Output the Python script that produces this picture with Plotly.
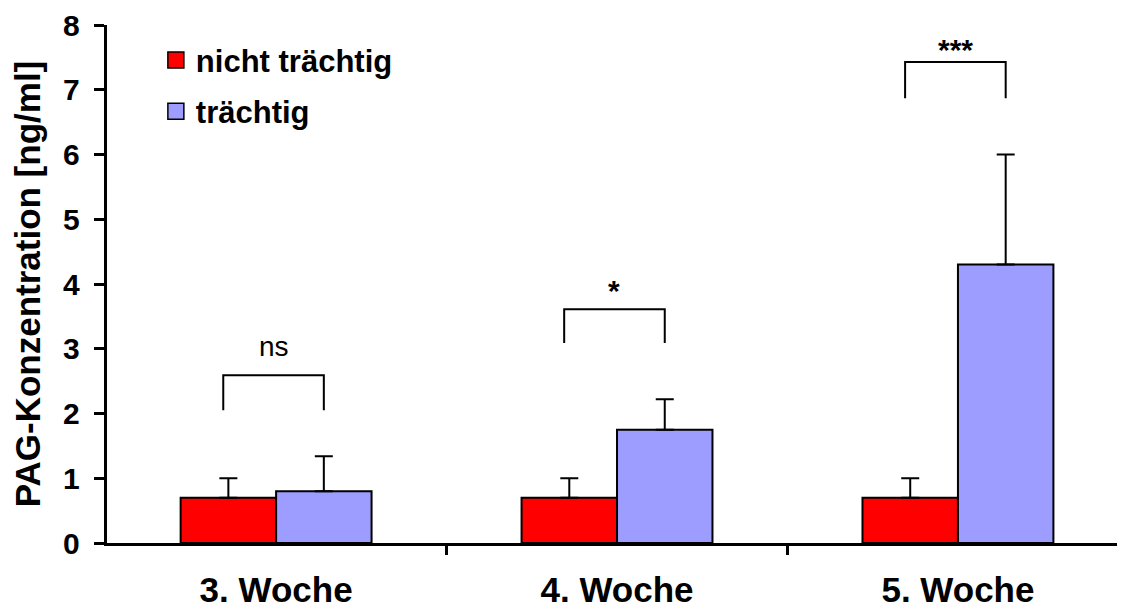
import plotly.graph_objects as go

categories = ["3. Woche", "4. Woche", "5. Woche"]
nicht_traechtig = [0.70, 0.70, 0.70]
nicht_traechtig_err = [0.30, 0.30, 0.30]
traechtig = [0.80, 1.75, 4.30]
traechtig_err = [0.54, 0.47, 1.70]
sig_labels = ["ns", "*", "***"]
bracket_top = [2.59, 3.61, 7.43]
bracket_bottom = [2.05, 3.09, 6.87]
label_y = [3.03, 3.9, 7.62]

RED = "#FF0000"
BLUE = "#9D9DFF"
FONT = "Liberation Sans, Arial, sans-serif"

fig = go.Figure()
fig.add_trace(go.Bar(
    x=categories, y=nicht_traechtig, name="nicht trächtig",
    marker=dict(color=RED, line=dict(color="black", width=2)),
    error_y=dict(type="data", array=nicht_traechtig_err, symmetric=False,
                 arrayminus=[0, 0, 0], color="black", thickness=2, width=9),
    showlegend=False,
))
fig.add_trace(go.Bar(
    x=categories, y=traechtig, name="trächtig",
    marker=dict(color=BLUE, line=dict(color="black", width=2)),
    error_y=dict(type="data", array=traechtig_err, symmetric=False,
                 arrayminus=[0, 0, 0], color="black", thickness=2, width=9),
    showlegend=False,
))
# legend entries
for nm, col, grp in [("nicht trächtig", RED, "a"), ("trächtig", BLUE, "b")]:
    fig.add_trace(go.Scatter(
        x=[None], y=[None], mode="markers", name=nm, legendgroup=grp,
        marker=dict(symbol="square", size=16, color=col,
                    line=dict(color="black", width=1.5)),
    ))

# significance brackets
off_l, off_r = -0.155, 0.14
for i, lab in enumerate(sig_labels):
    fig.add_shape(type="path", xref="x", yref="y",
                  path=f"M {i+off_l},{bracket_bottom[i]} L {i+off_l},{bracket_top[i]} "
                       f"L {i+off_r},{bracket_top[i]} L {i+off_r},{bracket_bottom[i]}",
                  line=dict(color="black", width=2))
    bold = lab != "ns"
    fig.add_annotation(x=i + (off_l + off_r) / 2, y=label_y[i], xref="x", yref="y",
                       text=lab, showarrow=False,
                       font=dict(family=FONT, size=28 if not bold else 30,
                                 color="black", weight="bold" if bold else "normal"))

fig.update_layout(
    width=1117, height=600,
    margin=dict(l=99, r=0, t=17, b=65),
    paper_bgcolor="white", plot_bgcolor="white",
    barmode="group", bargap=0.44, bargroupgap=0,
    font=dict(family=FONT, color="black"),
    legend=dict(x=0.048, y=0.984, xanchor="left", yanchor="top",
                font=dict(family=FONT, size=31, weight="bold"),
                tracegroupgap=8, bgcolor="rgba(0,0,0,0)"),
)
fig.update_xaxes(
    range=[-0.496, 2.49], showline=True, linecolor="black", linewidth=3,
    ticks="outside", tickson="boundaries", ticklen=9, tickwidth=3, tickcolor="black",
    tickfont=dict(family=FONT, size=35, weight="bold"), showgrid=False, zeroline=False,
    automargin=False, ticklabelstandoff=14,
)
fig.update_yaxes(
    range=[0, 8], dtick=1, showline=True, linecolor="black", linewidth=3,
    ticks="outside", ticklen=10, tickwidth=3, tickcolor="black", ticksuffix=" ",
    tickfont=dict(family=FONT, size=30, weight="bold"), showgrid=False, zeroline=False,
    automargin=False,
    title=dict(text="PAG-Konzentration [ng/ml]", standoff=13,
               font=dict(family=FONT, size=35, weight="bold")),
)

fig.write_html("out.html")
